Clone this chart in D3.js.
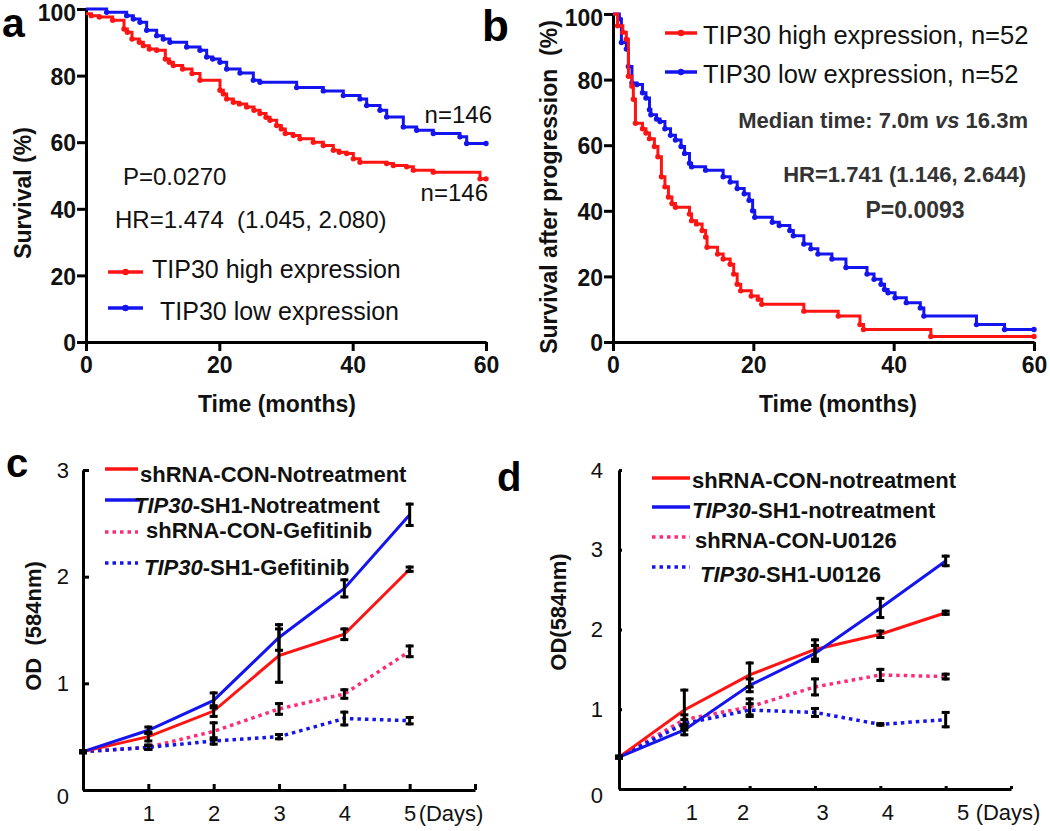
<!DOCTYPE html>
<html><head><meta charset="utf-8">
<script src="https://cdn.jsdelivr.net/npm/d3@7"></script>
<style>body{margin:0;background:#fff}svg{display:block;font-family:Arial,"Liberation Sans",sans-serif}</style>
</head><body><svg id="c" width="1050" height="831"></svg>
<script>
// ---------- DATA ----------
// Panel a: Kaplan-Meier overall survival (time in months, survival %)
const kmAHigh = [[0,98.6],[0.8,98],[2,97.6],[4,96.6],[5.7,94],[6.2,93],[6.9,91],[8,90],[8.6,89],[9.5,88],[10.6,87.6],[11.9,85],[12.5,84],[13.1,83],[14.5,82],[15.9,80.6],[17.1,78.6],[20.1,75.6],[20.6,74.5],[21.1,73],[22.1,72],[23,71.5],[24.1,70.6],[25.2,69.6],[26.1,68.6],[27,67.5],[27.6,66.6],[28.6,65],[29.3,64],[29.9,62.6],[31.1,62],[32.1,61],[34.1,60],[35.6,59],[37.1,57.6],[38,57],[39.1,56.6],[40.1,55],[41.1,54],[45.1,53.6],[46.1,53],[48.1,52.6],[49.1,51.6],[52.1,51],[59.1,49],[60,49]];
const kmALow = [[0,100],[3.1,99],[6.1,98],[7.1,97],[8.1,96],[9.1,93.6],[10.6,92],[11.6,91],[12.6,90],[15.1,88.6],[17.1,87.6],[18.1,85.6],[19,85],[20.1,84],[21.1,82],[23.1,80.8],[25.1,78.6],[26.1,78],[31.6,76.4],[35.6,75.4],[38.6,74],[41.1,73],[42.1,71],[44.1,69.6],[45.1,67.6],[47.6,64.6],[49.6,63.6],[52.1,62.6],[56.1,61.6],[57.1,59.6],[60,59.6]];
// Panel b: survival after progression
const kmBHigh = [[0,100],[0.65,96.4],[1.4,94.4],[1.9,92.3],[2.2,81],[2.7,78],[2.9,74],[3.2,66.7],[4.2,65],[4.7,63.7],[5.2,62],[5.9,59.6],[6.4,56.5],[6.9,50.4],[7.4,47.3],[7.9,44.2],[8.4,42.2],[8.9,41.1],[10.9,39],[11.2,37],[11.9,36],[12.7,34],[13.2,32],[13.4,28.9],[14.9,26.8],[15.7,25.3],[16.7,23.7],[17.2,20.7],[17.7,17.6],[18.2,15.6],[19.7,14],[20.7,13],[21.2,11.5],[27.2,9.4],[32.1,7.9],[35.2,5.3],[35.7,3.8],[45.3,1.7],[60,1.7]];
const kmBLow = [[0,100],[0.9,98.5],[1.2,91.3],[1.9,89.3],[2.2,84],[2.7,79],[3.4,78.5],[4.2,76],[4.7,74.4],[5.2,70.8],[5.4,69.3],[6.2,68],[6.7,67.2],[7.4,65],[8.2,63],[8.9,61.6],[9.7,59.6],[10.2,57.5],[10.9,54.5],[11.2,53.4],[13.2,52.4],[15.7,50.4],[16.7,48.8],[17.7,46.8],[18.7,45.2],[19.4,43.2],[19.9,40],[20.2,38],[22.7,36.5],[23.7,35.5],[25.2,34],[25.7,32.4],[27.2,29.9],[28.2,28.4],[29.2,26.8],[31.2,25.3],[33.2,22.7],[36.2,20.7],[37.2,19.1],[38.2,17.6],[38.7,16],[39.2,15],[40.2,13.5],[41.8,12],[43.8,10.4],[44.3,7.9],[51.8,5.3],[55.8,3.8],[60,3.8]];
const kmTicksX = [0,20,40,60];
const kmTicksY = [0,20,40,60,80,100];

// Panels c, d: OD (584nm) by day
const days = [0,1,2,3,4,5];
const dayTicks = [1,2,3,4,5,6];
const cConNo   = [0.36,0.50,0.74,1.26,1.46,2.07];
const cConNoErr= [0.01,0.04,0.05,0.25,0.05,0.02];
const cShNo    = [0.36,0.56,0.84,1.43,1.89,2.58];
const cShNoErr = [0.01,0.03,0.07,0.12,0.08,0.10];
const cConGef  = [0.36,0.40,0.55,0.76,0.90,1.30];
const cConGefErr=[0.01,0.02,0.08,0.05,0.04,0.05];
const cShGef   = [0.36,0.40,0.46,0.50,0.67,0.65];
const cShGefErr= [0.01,0.02,0.03,0.02,0.06,0.03];
const cTicksY = [0,1,2,3];

const dConNo   = [0.40,0.99,1.43,1.75,1.94,2.21];
const dConNoErr= [0.01,0.25,0.15,0.12,0.04,0.02];
const dShNo    = [0.40,0.74,1.30,1.70,2.27,2.86];
const dShNoErr = [0.01,0.06,0.08,0.10,0.12,0.06];
const dConU    = [0.40,0.87,1.03,1.28,1.43,1.41];
const dConUErr = [0.01,0.06,0.10,0.10,0.07,0.03];
const dShU     = [0.40,0.82,0.99,0.96,0.81,0.87];
const dShUErr  = [0.01,0.05,0.08,0.05,0.01,0.09];
const dTicksY = [0,1,2,3,4];

const RED = "#ff1414", BLUE = "#1414ee", PINK = "#ff2a78";

// ---------- DRAW ----------
const svg = d3.select("#c");
svg.append("rect").attr("width",1050).attr("height",831).attr("fill","#fff");

function styleAxis(g, fs, weight){
  g.selectAll("path.domain").attr("stroke","#000").attr("stroke-width",3);
  g.selectAll(".tick line").attr("stroke","#000").attr("stroke-width",3);
  g.selectAll(".tick text").attr("fill","#111").attr("font-size",fs).attr("font-weight",weight)
    .attr("font-family","Arial, 'Liberation Sans', sans-serif");
}

function kmPanel(cfg){
  const x = d3.scaleLinear().domain([0,60]).range(cfg.xr);
  const y = d3.scaleLinear().domain([0,100]).range(cfg.yr);
  const gx = svg.append("g").attr("transform",`translate(0,${cfg.yr[0]})`)
    .call(d3.axisBottom(x).tickValues(kmTicksX).tickSize(9).tickSizeOuter(0).tickPadding(6));
  styleAxis(gx,23,"bold");
  const gy = svg.append("g").attr("transform",`translate(${cfg.xr[0]},0)`)
    .call(d3.axisLeft(y).tickValues(kmTicksY).tickSize(9).tickSizeOuter(0).tickPadding(1));
  styleAxis(gy,23,"bold");
  gy.selectAll(".tick text").attr("dy","0.38em");
  gy.select(".tick:last-of-type text").attr("dy","0.48em");
  const line = d3.line().x(d=>x(d[0])).y(d=>y(d[1])).curve(d3.curveStepAfter);
  cfg.series.forEach(s=>{
    svg.append("path").datum(s.data).attr("d",line).attr("fill","none")
      .attr("stroke",s.color).attr("stroke-width",3);
    svg.append("g").selectAll("circle").data(s.data.slice(1)).join("circle")
      .attr("cx",d=>x(d[0])).attr("cy",d=>y(d[1])).attr("r",2.7).attr("fill",s.color);
  });
  return {x,y};
}

// Panel a
kmPanel({xr:[86,486], yr:[342,9], series:[{data:kmALow,color:BLUE},{data:kmAHigh,color:RED}]});
// Panel b
kmPanel({xr:[613,1034], yr:[342,14], series:[{data:kmBLow,color:BLUE},{data:kmBHigh,color:RED}]});

function txt(x,y,s,o={}){
  const t = svg.append("text").attr("x",x).attr("y",y).text(s)
    .attr("font-size",o.fs||24).attr("font-weight",o.fw||"normal")
    .attr("fill",o.fill||"#111").attr("text-anchor",o.anchor||"start");
  if(o.rot) t.attr("transform",`rotate(-90,${x},${y})`);
  return t;
}
// panel letters
txt(2,37,"a",{fs:41,fw:"bold",fill:"#000"});
txt(482,41,"b",{fs:44,fw:"bold",fill:"#000"});
txt(6,477,"c",{fs:40,fw:"bold",fill:"#000"});
txt(497,491,"d",{fs:40,fw:"bold",fill:"#000"});

// Panel a text
txt(31,193,"Survival (%)",{fs:23,fw:"bold",anchor:"middle",rot:true});
txt(277,412,"Time (months)",{fs:23,fw:"bold",anchor:"middle"});
txt(492,123,"n=146",{fs:24,anchor:"end"});
txt(488,201,"n=146",{fs:24,anchor:"end"});
txt(123,185,"P=0.0270",{fs:24});
txt(115,228,"HR=1.474  (1.045, 2.080)",{fs:24}).style("white-space","pre");
function kmLegend(x1,x2,y,color){
  svg.append("line").attr("x1",x1).attr("x2",x2).attr("y1",y).attr("y2",y).attr("stroke",color).attr("stroke-width",3.5);
  svg.append("circle").attr("cx",(x1+x2)/2).attr("cy",y).attr("r",3.2).attr("fill",color);
}
kmLegend(108,143,272,RED); txt(152,278,"TIP30 high expression",{fs:25});
kmLegend(108,143,308,BLUE); txt(160,320,"TIP30 low expression",{fs:25});

// Panel b text
txt(557,187,"Survival after progression  (%)",{fs:23,fw:"bold",anchor:"middle",rot:true}).style("white-space","pre");
txt(838,412,"Time (months)",{fs:23,fw:"bold",anchor:"middle"});
kmLegend(665,697,33,RED); txt(703,44,"TIP30 high expression, n=52",{fs:25.5});
kmLegend(665,697,72,BLUE); txt(703,83,"TIP30 low expression, n=52",{fs:25.5});
const med = txt(1028,128,"",{fs:22,fw:"bold",anchor:"end",fill:"#333"});
med.append("tspan").text("Median time: 7.0m ");
med.append("tspan").attr("font-style","italic").text("vs");
med.append("tspan").text(" 16.3m");
txt(1026,182,"HR=1.741 (1.146, 2.644)",{fs:22,fw:"bold",anchor:"end",fill:"#333"});
txt(915,218,"P=0.0093",{fs:23,fw:"bold",anchor:"middle",fill:"#333"});

// ---------- Growth panels ----------
function odPanel(cfg){
  const x = d3.scaleLinear().domain([0,6]).range(cfg.xr);
  const y = d3.scaleLinear().domain([0,cfg.ymax]).range(cfg.yr);
  const gx = svg.append("g").attr("transform",`translate(0,${cfg.yr[0]})`)
    .call(d3.axisBottom(x).tickValues(dayTicks).tickSize(-cfg.tick).tickSizeOuter(0).tickPadding(15)
      .tickFormat(d=>d<=5?String(d):""));
  styleAxis(gx,22,"normal");
  gx.selectAll(".tick text").attr("dx",(d,i)=>cfg.xdx ? cfg.xdx[i]||0 : 0);
  const gy = svg.append("g").attr("transform",`translate(${cfg.xr[0]},0)`)
    .call(d3.axisLeft(y).tickValues(cfg.yticks).tickSize(-cfg.tick).tickSizeOuter(0).tickPadding(cfg.ypad)
      .tickFormat(d3.format("d")));
  styleAxis(gy,22,"normal");
  gy.select(".tick:first-of-type text").attr("dy","0.6em");
  txt(x(5)+cfg.daysDx, cfg.yr[0]+31, "(Days)", {fs:22});
  const line = d3.line().x((d,i)=>x(days[i])).y(d=>y(d));
  cfg.series.forEach(s=>{
    svg.append("path").datum(s.v).attr("d",line).attr("fill","none").attr("stroke",s.color)
      .attr("stroke-width",s.dot?3.5:3).attr("stroke-dasharray",s.dot?"3.5,4":null);
  });
  cfg.series.forEach(s=>{
    const g = svg.append("g").attr("stroke","#000").attr("stroke-width",3);
    s.v.forEach((v,i)=>{
      const cx = x(days[i]); const e = s.e[i];
      const y1 = y(v+e), y2 = y(v-e);
      g.append("line").attr("x1",cx).attr("x2",cx).attr("y1",y1-1.5).attr("y2",y2+1.5);
      g.append("line").attr("x1",cx-4).attr("x2",cx+4).attr("y1",y1).attr("y2",y1);
      g.append("line").attr("x1",cx-4).attr("x2",cx+4).attr("y1",y2).attr("y2",y2);
    });
  });
  cfg.legend.forEach(l=>{
    svg.append("line").attr("x1",l.x1).attr("x2",l.x2).attr("y1",l.ly).attr("y2",l.ly)
      .attr("stroke",l.color).attr("stroke-width",3.5).attr("stroke-dasharray",l.dot?"3.5,4":null);
    const t = txt(l.tx,l.ty,"",{fs:22,fw:"bold"});
    l.parts.forEach(p=>t.append("tspan").attr("font-style",p[1]?"italic":null).text(p[0]));
  });
}

odPanel({xr:[83,475], yr:[790,470], ymax:3, yticks:cTicksY, tick:6, ypad:14, daysDx:9,
  series:[
    {v:cConGef,e:cConGefErr,color:PINK,dot:true},
    {v:cShGef,e:cShGefErr,color:BLUE,dot:true},
    {v:cConNo,e:cConNoErr,color:RED},
    {v:cShNo,e:cShNoErr,color:BLUE}],
  legend:[
    {x1:105,x2:138,ly:469,color:RED,tx:140,ty:482,parts:[["shRNA-CON-Notreatment"]]},
    {x1:105,x2:140,ly:500,color:BLUE,tx:134,ty:513,parts:[["TIP30",1],["-SH1-Notreatment"]]},
    {x1:105,x2:138,ly:532,color:PINK,dot:true,tx:146,ty:538,parts:[["shRNA-CON-Gefitinib"]]},
    {x1:105,x2:138,ly:563,color:BLUE,dot:true,tx:144,ty:575,parts:[["TIP30",1],["-SH1-Gefitinib"]]}]
});
txt(41,626,"OD  (584nm)",{fs:22,fw:"bold",anchor:"middle",rot:true}).style("white-space","pre");

odPanel({xr:[619,1011], yr:[789,470], ymax:4, yticks:dTicksY, tick:3, ypad:16, daysDx:30, xdx:[7,-7,7,7,17],
  series:[
    {v:dConU,e:dConUErr,color:PINK,dot:true},
    {v:dShU,e:dShUErr,color:BLUE,dot:true},
    {v:dConNo,e:dConNoErr,color:RED},
    {v:dShNo,e:dShNoErr,color:BLUE}],
  legend:[
    {x1:652,x2:690,ly:478,color:RED,tx:692,ty:488,parts:[["shRNA-CON-notreatment"]]},
    {x1:652,x2:690,ly:507,color:BLUE,tx:692,ty:518,parts:[["TIP30",1],["-SH1-notreatment"]]},
    {x1:652,x2:690,ly:537,color:PINK,dot:true,tx:695,ty:548,parts:[["shRNA-CON-U0126"]]},
    {x1:652,x2:690,ly:567,color:BLUE,dot:true,tx:700,ty:582,parts:[["TIP30",1],["-SH1-U0126"]]}]
});
txt(566,612,"OD(584nm)",{fs:22,fw:"bold",anchor:"middle",rot:true});
</script></body></html>
